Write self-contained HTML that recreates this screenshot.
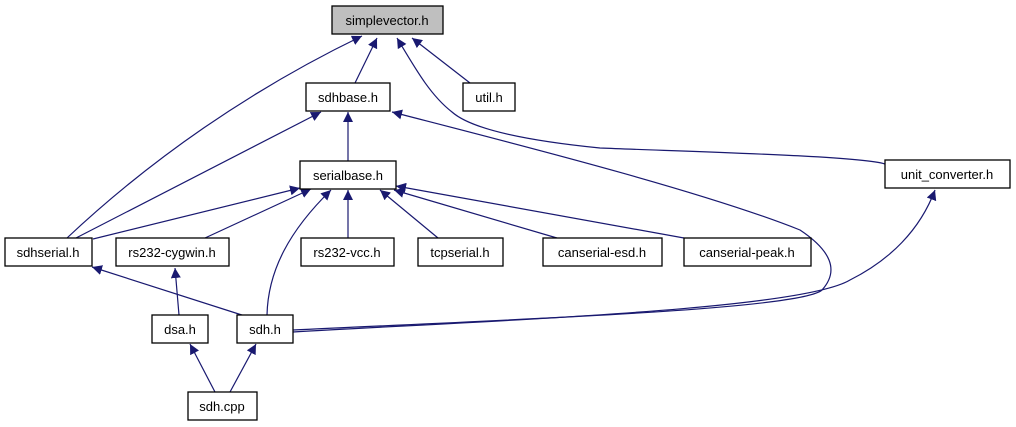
<!DOCTYPE html>
<html><head><meta charset="utf-8"><style>
html,body{margin:0;padding:0;background:#fff;}
svg{display:block}
text{font-family:"Liberation Sans",sans-serif;font-size:13px;fill:#000;text-anchor:middle}
.n{fill:#fff;stroke:#000;stroke-width:1.3}
.e{fill:none;stroke:#191970;stroke-width:1.2}
</style></head><body>
<svg width="1016" height="427" viewBox="0 0 1016 427" xmlns="http://www.w3.org/2000/svg">
<defs><marker id="a" viewBox="0 0 10 10" refX="10" refY="5" markerWidth="10" markerHeight="10" markerUnits="userSpaceOnUse" orient="auto"><path d="M0,0L10,5L0,10z" fill="#191970"/></marker></defs>
<g class="e" marker-end="url(#a)">
<path d="M355,83L377,38"/>
<path d="M470,83L412,38"/>
<path d="M67,238C150,160 250,90 362,36"/>
<path d="M885,164C860,156 700,152 600,148C520,140 470,128 452,112C430,95 415,68 397,38"/>
<path d="M76,238L321,112"/>
<path d="M348,161L348,112"/>
<path d="M293,330C500,320 800,310 822,290C840,270 830,250 800,230C700,190 500,140 392,112"/>
<path d="M93,239L300,188"/>
<path d="M205,238L311,189"/>
<path d="M348,238L348,190"/>
<path d="M438,238L380,190"/>
<path d="M557,238L394,190"/>
<path d="M684,238L396,186"/>
<path d="M267,315C268,270 290,230 331,190"/>
<path d="M245,316L92,267"/>
<path d="M179,315L175,268"/>
<path d="M293,332C500,320 800,310 850,280C890,260 920,230 935,190"/>
<path d="M215,392L190,344"/>
<path d="M230,392L256,344"/>
</g>
<rect class="n" x="332" y="6" width="111" height="28" style="fill:#bfbfbf"/><text x="387" y="25">simplevector.h</text>
<rect class="n" x="306" y="83" width="84" height="28"/><text x="348" y="102">sdhbase.h</text>
<rect class="n" x="463" y="83" width="52" height="28"/><text x="489" y="102">util.h</text>
<rect class="n" x="300" y="161" width="96" height="28"/><text x="348" y="180">serialbase.h</text>
<rect class="n" x="885" y="160" width="125" height="28"/><text x="947" y="179">unit_converter.h</text>
<rect class="n" x="5" y="238" width="87" height="28"/><text x="48" y="257">sdhserial.h</text>
<rect class="n" x="116" y="238" width="113" height="28"/><text x="172" y="257">rs232-cygwin.h</text>
<rect class="n" x="301" y="238" width="93" height="28"/><text x="347" y="257">rs232-vcc.h</text>
<rect class="n" x="418" y="238" width="85" height="28"/><text x="460" y="257">tcpserial.h</text>
<rect class="n" x="543" y="238" width="119" height="28"/><text x="602" y="257">canserial-esd.h</text>
<rect class="n" x="684" y="238" width="127" height="28"/><text x="747" y="257">canserial-peak.h</text>
<rect class="n" x="152" y="315" width="56" height="28"/><text x="180" y="334">dsa.h</text>
<rect class="n" x="237" y="315" width="56" height="28"/><text x="265" y="334">sdh.h</text>
<rect class="n" x="188" y="392" width="69" height="28"/><text x="222" y="411">sdh.cpp</text>
</svg>
</body></html>
